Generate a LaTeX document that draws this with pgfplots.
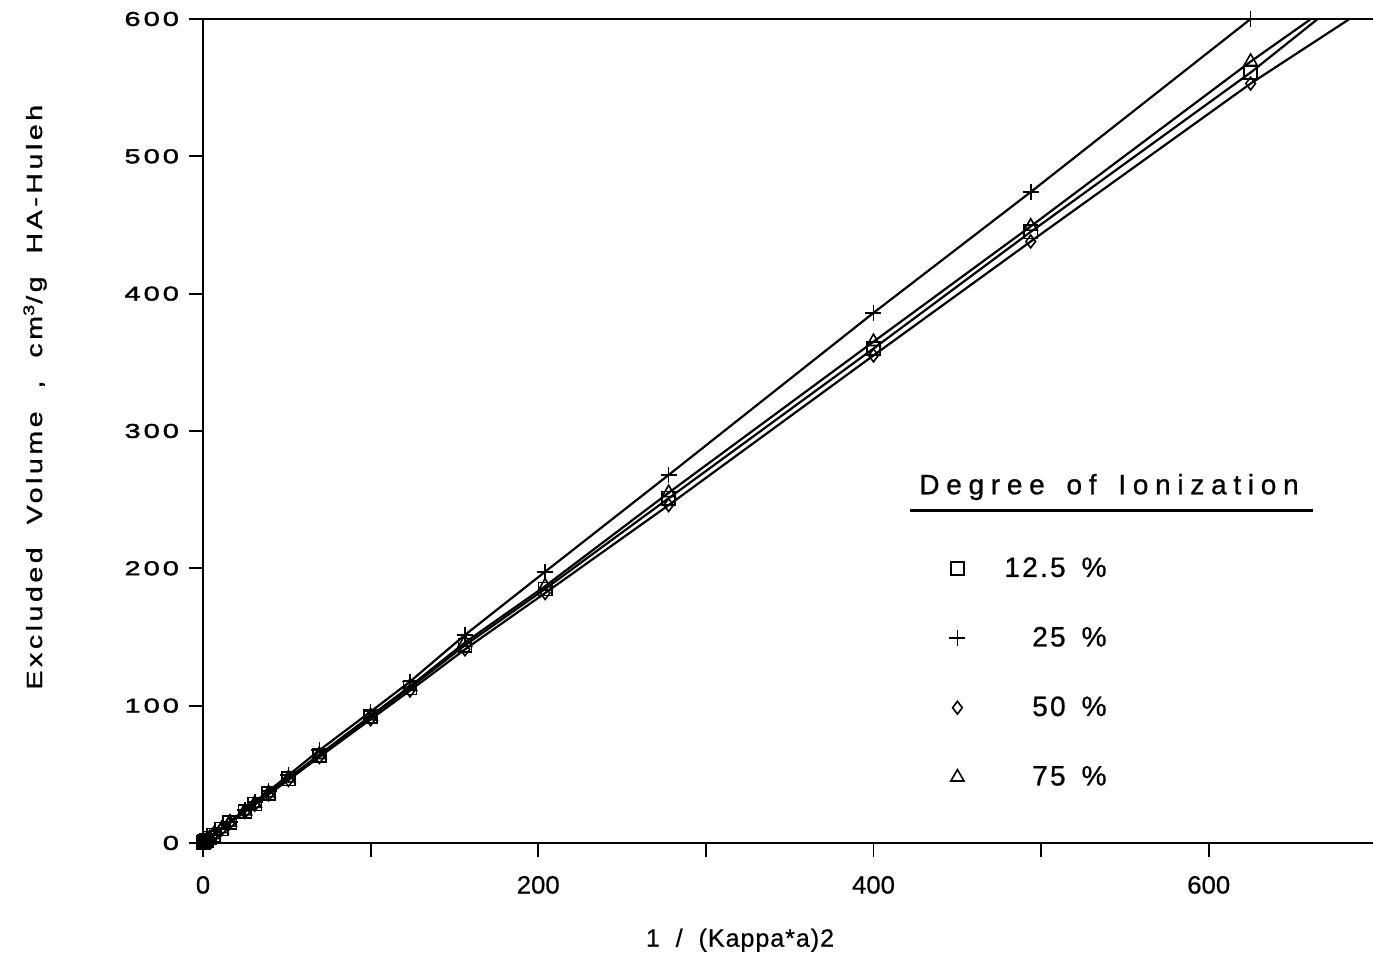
\documentclass[border=0pt]{standalone}
\usepackage{fontspec}
\setmainfont{Liberation Sans}
\newfontfamily\ytickfont[FakeStretch=1.45, FakeBold=2, LetterSpace=15]{Liberation Sans}
\newfontfamily\xtickfont[FakeStretch=1.03, FakeBold=0.6]{Liberation Sans}
\newfontfamily\labelfont[FakeStretch=1.3, FakeBold=1.2, LetterSpace=16, WordSpace=2]{Liberation Sans}
\newfontfamily\xlabelfont[FakeBold=0.6, LetterSpace=4, WordSpace=2]{Liberation Sans}
\newfontfamily\legfont[FakeBold=0.8, LetterSpace=8, WordSpace=1.6]{Liberation Sans}
\newfontfamily\titlefont[FakeBold=0.8, LetterSpace=24, WordSpace=1.5]{Liberation Sans}
\usepackage{pgfplots}
\usepackage{pgfplotstable}
\pgfplotsset{compat=1.18}

% Excluded volume against 1/(kappa a)^2, one table per degree of ionization
\pgfplotstableread{
x y
0.5 0.47
1 0.93
2 1.85
4 3.7
6.25 5.8
11.1 10.2
16 14.8
25 23.0
30.9 28.4
39.1 35.9
51 46.8
69.4 63.8
100 92
123.5 113
156.3 144
204.1 185
277.8 251
400 360
493.8 445
625 561
}\ionA
\pgfplotstableread{
x y
0.5 0.48
1 0.96
2 1.9
4 3.9
6.25 6.1
11.1 10.8
16 15.5
25 24.2
30.9 30
39.1 37.8
51 49.4
69.4 67.5
100 95.6
123.5 117.5
156.3 151.5
204.1 197.5
277.8 268
400 386
493.8 474
625 600
}\ionB
\pgfplotstableread{
x y
0.5 0.46
1 0.9
2 1.8
4 3.6
6.25 5.7
11.1 10
16 14.5
25 22.6
30.9 27.9
39.1 35.3
51 45.9
69.4 62.6
100 90
123.5 111
156.3 141
204.1 182
277.8 246
400 355
493.8 438
625 553
}\ionC
\pgfplotstableread{
x y
0.5 0.47
1 0.94
2 1.87
4 3.75
6.25 5.9
11.1 10.3
16 15
25 23.3
30.9 28.8
39.1 36.3
51 47.3
69.4 64.3
100 92.5
123.5 114
156.3 146
204.1 187
277.8 255
400 365
493.8 449
625 569
}\ionD

\begin{document}
\begin{tikzpicture}
\begin{axis}[
  scale only axis, width=585pt, height=412pt,
  xmin=0, xmax=698, ymin=0, ymax=600,
  enlargelimits=false, clip=false,
  axis lines*=left,
  axis line style={line width=1.3pt, black},
  tick align=outside,
  major tick length=7pt,
  tick style={line width=0.9pt, black},
  xtick={0,100,...,600}, xticklabels={0,,200,,400,,600},
  ytick={0,100,...,600},
  /pgf/number format/assume math mode=true,
  xticklabel style={font=\fontsize{12.5}{15}\xtickfont, yshift=-6pt},
  yticklabel style={font=\fontsize{10}{12}\ytickfont, xshift=-1.5pt},
  xlabel={1 / (Kappa*a)2},
  ylabel={Excluded Volume , cm\textsuperscript{3}/g HA-Huleh},
  xlabel style={font=\fontsize{12.5}{14}\xlabelfont, at={(axis description cs:0.459,-0.118)}, anchor=center},
  ylabel style={font=\fontsize{11}{13}\labelfont, at={(axis description cs:-0.1436,0.541)}, anchor=center},
  every axis plot/.append style={black, line width=1.1pt},
  legend cell align=right,
  legend image code/.code={\path[draw=none, fill=none] (-4pt,-4pt) rectangle (23.5pt,4pt); \draw[#1] plot coordinates {(0pt,0pt)};},
  legend style={at={(axis description cs:0.6325,0.352)}, anchor=north west, draw=none, fill=none,
    font=\fontsize{14}{16}\legfont, row sep=23.5pt, nodes={inner sep=0pt}},
]
% fitted curves, continued up to the top of the frame
\addplot[forget plot] table {\ionA};
\addplot[forget plot] coordinates {(625,561) (665,600)};
\addplot[forget plot] table {\ionB};
\addplot[forget plot] table {\ionC};
\addplot[forget plot] coordinates {(625,553) (684,600)};
\addplot[forget plot] table {\ionD};
\addplot[forget plot] coordinates {(625,569) (661,600)};
% measured points
\addplot[only marks, mark=square, mark size=3.3pt, mark options={line width=0.8pt}] table {\ionA};
\addlegendentry{12.5 \%}
\addplot[only marks, mark=+, mark size=4pt, mark options={line width=0.8pt}] table {\ionB};
\addlegendentry{25 \%}
\addplot[only marks, mark=diamond, mark size=3.2pt, mark options={line width=0.8pt}] table {\ionC};
\addlegendentry{50 \%}
\addplot[only marks, mark=triangle, mark size=3.8pt, mark options={line width=0.8pt}] table {\ionD};
\addlegendentry{75 \%}
% frame line along the top
\draw[line width=1.3pt] (rel axis cs:0,1) -- (rel axis cs:1,1);
% legend heading with its rule
\node[font=\fontsize{14}{16}\titlefont] at (rel axis cs:0.7744,0.432) {Degree of Ionization};
\draw[line width=1.5pt] (rel axis cs:0.6043,0.4041) -- (rel axis cs:0.9487,0.4041);
\end{axis}
\pgfresetboundingbox
\path (-101.5pt,-56.5pt) rectangle (585pt,421.5pt);
\end{tikzpicture}
\end{document}
